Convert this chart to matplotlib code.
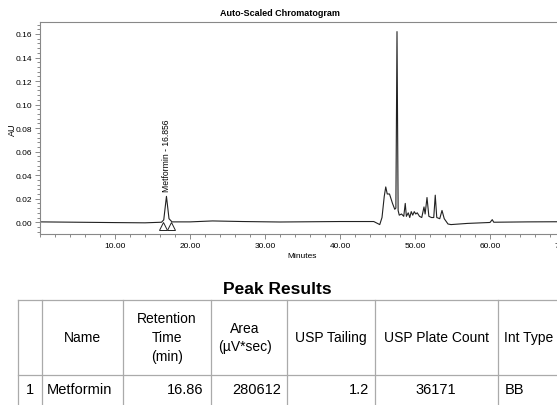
import numpy as np
import matplotlib
matplotlib.use("Agg")
import matplotlib.pyplot as plt
from matplotlib.ticker import MultipleLocator, AutoMinorLocator, FormatStrFormatter

plt.rcParams["font.family"] = ["Liberation Sans", "DejaVu Sans"]

# chromatogram trace (minutes, AU)
time_min = [0, 5, 10, 14, 16.2, 16.5, 16.86, 17.2, 17.6, 20, 23, 27, 32, 40, 44.5,
            45.3, 45.6, 45.9, 46.1, 46.3, 46.6, 46.8, 47.0, 47.3, 47.45, 47.6, 47.75,
            47.9, 48.2, 48.5, 48.7, 48.85, 49.1, 49.3, 49.5, 49.7, 49.9, 50.1, 50.3,
            50.6, 50.9, 51.2, 51.35, 51.6, 51.85, 52.2, 52.5, 52.7, 52.9, 53.3, 53.6,
            53.9, 54.4, 54.8, 57, 60, 60.3, 60.5, 65, 72]
absorb = [0.0003, 0.0, -0.0003, -0.0005, 0.0, 0.002, 0.022, 0.003, 0.0003, 0.0003,
          0.0011, 0.0006, 0.0002, 0.0006, 0.0006,
          -0.002, 0.004, 0.022, 0.030, 0.024, 0.024, 0.020, 0.016, 0.011, 0.012,
          0.162, 0.010, 0.006, 0.007, 0.005, 0.016, 0.005, 0.008, 0.004, 0.009,
          0.006, 0.009, 0.007, 0.008, 0.005, 0.004, 0.013, 0.007, 0.021, 0.005,
          0.004, 0.004, 0.023, 0.004, 0.003, 0.010, 0.003, -0.0015, -0.002, -0.001,
          -0.0002, 0.0022, 0.0, 0.0003, 0.0005]

peak_name = "Metformin"
peak_rt = 16.856
peak_marks_t = [16.4, 17.5]
peak_marks_y = [-0.0036, -0.0036]

# peak results table
headers = ["", "Name", "Retention\nTime\n(min)", "Area\n(µV*sec)", "USP Tailing",
           "USP Plate Count", "Int Type"]
row1 = ["1", "Metformin", "16.86", "280612", "1.2", "36171", "BB"]

W, H = 557, 406
fig = plt.figure(figsize=(W / 100, H / 100), dpi=100)

# chromatogram axes (right part runs off the picture like the original crop)
ax = fig.add_axes([40 / W, 1 - 235 / H, 540 / W, (235 - 23.2) / H])
ax.plot(time_min, absorb, color="#222222", lw=0.8)
ax.plot(peak_marks_t, peak_marks_y, ls="none", marker="^", ms=5.5,
        mfc="white", mec="#222222", mew=0.7)
ax.text(peak_rt, 0.0266, f"{peak_name} - {peak_rt:.3f}", rotation=90,
        ha="center", va="bottom", fontsize=6.2)
ax.set_xlim(0, 72)
ax.set_ylim(-0.01, 0.17)
ax.xaxis.set_major_locator(MultipleLocator(10))
ax.xaxis.set_minor_locator(MultipleLocator(2))
ax.yaxis.set_major_locator(MultipleLocator(0.02))
ax.yaxis.set_minor_locator(AutoMinorLocator(5))
ax.xaxis.set_major_formatter(FormatStrFormatter("%.2f"))
ax.yaxis.set_major_formatter(FormatStrFormatter("%.2f"))
ticks = ax.get_xticks()
ax.set_xticks([t for t in ticks if 0 < t <= 70])
ax.tick_params(which="both", labelsize=6, color="#777777", width=0.6, pad=2)
ax.tick_params(which="major", length=3.5)
ax.tick_params(which="minor", length=2)
for s in ax.spines.values():
    s.set_color("#888888")
    s.set_linewidth(0.8)

fig.text(280 / W, 1 - 13 / H, "Auto-Scaled Chromatogram", ha="center", va="center",
         fontsize=6.5, fontweight="bold")
fig.text(12 / W, 1 - 130 / H, "AU", rotation=90, ha="center", va="center", fontsize=6.5)
fig.text(302 / W, 1 - 257 / H, "Minutes", ha="center", va="center", fontsize=6)

# table drawn in pixel coordinates
tx = fig.add_axes([0, 0, 1, 1])
tx.set_xlim(0, W)
tx.set_ylim(H, 0)
tx.axis("off")
tx.text(277, 290, "Peak Results", ha="center", va="center", fontsize=12.5,
        fontweight="bold")

col_edges = [18, 42, 123, 211, 287, 375, 498, 600]
line_c = "#aaaaaa"
for yy in [301, 376]:
    tx.plot([18, W], [yy, yy], color=line_c, lw=0.9)
for xx in col_edges[:-1]:
    tx.plot([xx, xx], [301, H], color=line_c, lw=0.9)

hdr_x = [30, 82, 167, 245, 331, 436, 504]
for i, h in enumerate(headers):
    ha = "left" if i == 6 else "center"
    tx.text(hdr_x[i], 338, h, ha=ha, va="center", fontsize=10,
            multialignment="center", linespacing=1.45)

row_x = [30, 47, 203, 281, 369, 436, 505]
row_ha = ["center", "left", "right", "right", "right", "center", "left"]
for i, v in enumerate(row1):
    tx.text(row_x[i], 390, v, ha=row_ha[i], va="center", fontsize=10.5)

fig.savefig("out.png", dpi=100)
